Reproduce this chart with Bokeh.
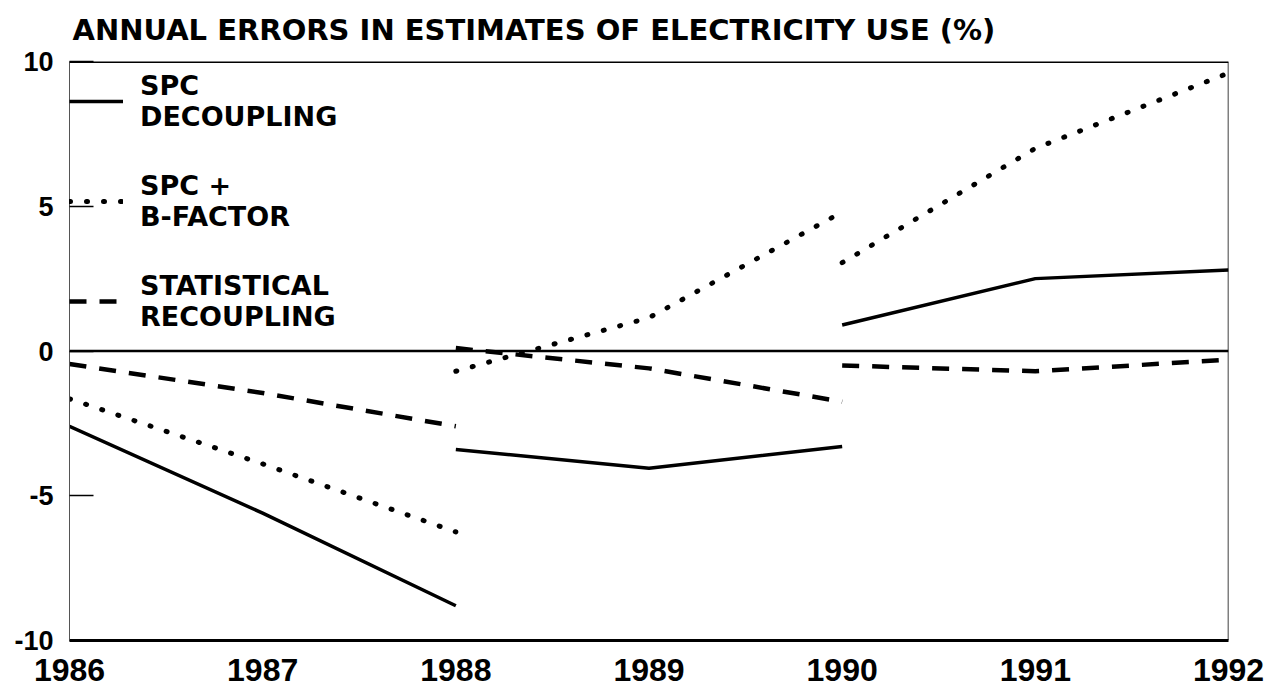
from bokeh.plotting import figure
from bokeh.models import Range1d, FixedTicker, Span, Legend, LegendItem, CustomJSTickFormatter
from bokeh.embed import file_html
from bokeh.resources import INLINE

# ---- data ----
segment_years = [[1986, 1987, 1988], [1988, 1989, 1990], [1990, 1991, 1992]]
spc_decoupling = [[-2.6, -5.6, -8.8], [-3.4, -4.05, -3.3], [0.9, 2.5, 2.8]]
spc_bfactor = [[-1.65, -3.9, -6.25], [-0.7, 1.15, 4.8], [3.05, 7.0, 9.6]]
stat_recoupling = [[-0.45, -1.45, -2.6], [0.1, -0.6, -1.75], [-0.5, -0.7, -0.3]]
x_ticks = [1986, 1987, 1988, 1989, 1990, 1991, 1992]
y_ticks = [-10, -5, 0, 5, 10]
series_labels = ["SPC\nDECOUPLING", "SPC +\nB-FACTOR", "STATISTICAL\nRECOUPLING"]
title_text = "ANNUAL ERRORS IN ESTIMATES OF ELECTRICITY USE (%)"

FONT = "Liberation Sans"
WIDE = "DejaVu Sans"

p = figure(width=1270, height=686, output_backend="svg", toolbar_location=None,
           x_range=Range1d(1986, 1992), y_range=Range1d(-10, 10),
           min_border_left=69, min_border_right=42, min_border_top=61, min_border_bottom=46)
p.title.text = title_text
p.title.text_font = WIDE
p.title.text_font_size = "29px"
p.title.text_font_style = "bold"
p.title.text_color = "black"
p.title.align = "left"
p.title.vertical_align = "top"
p.title.offset = 3
p.title.standoff = 25
p.outline_line_color = None
p.xgrid.grid_line_color = None
p.ygrid.grid_line_color = None
p.background_fill_color = "white"
p.border_fill_color = "white"

# axes
xa = p.xaxis[0]
xa.ticker = FixedTicker(ticks=x_ticks)
xa.major_tick_in = 0
xa.major_tick_out = 0
xa.minor_tick_line_color = None
xa.axis_line_width = 3
xa.axis_line_color = "black"
xa.major_label_text_font = FONT
xa.major_label_text_font_style = "bold"
xa.major_label_text_font_size = "32px"
xa.major_label_text_color = "black"
xa.major_label_standoff = 18

ya = p.yaxis[0]
ya.ticker = FixedTicker(ticks=y_ticks)
ya.formatter = CustomJSTickFormatter(code="return tick.toString();")
ya.major_tick_in = 24
ya.major_tick_out = 0
ya.major_tick_line_width = 1.5
ya.major_tick_line_color = "black"
ya.minor_tick_line_color = None
ya.axis_line_width = 1
ya.axis_line_color = "#555555"
ya.major_label_text_font = FONT
ya.major_label_text_font_style = "bold"
ya.major_label_text_font_size = "27px"
ya.major_label_text_color = "black"
ya.major_label_standoff = 16

# frame lines
p.add_layout(Span(location=10, dimension="width", line_color="black", line_width=3))
p.add_layout(Span(location=0, dimension="width", line_color="black", line_width=2.5))
p.add_layout(Span(location=1992, dimension="height", line_color="black", line_width=1.5))

# series
r1 = p.multi_line(xs=segment_years, ys=spc_decoupling, line_color="black", line_width=3.5)
r2 = p.multi_line(xs=segment_years, ys=spc_bfactor, line_color="black", line_width=5,
                  line_dash="1 16", line_cap="round")
r3 = p.multi_line(xs=segment_years, ys=stat_recoupling, line_color="black", line_width=4.5,
                  line_dash="17 13")

legend = Legend(items=[LegendItem(label=series_labels[0], renderers=[r1]),
                       LegendItem(label=series_labels[1], renderers=[r2]),
                       LegendItem(label=series_labels[2], renderers=[r3])],
                location=(0, 304))
legend.margin = 0
legend.padding = 0
legend.border_line_color = None
legend.background_fill_alpha = 0
legend.glyph_width = 54
legend.glyph_height = 30
legend.label_standoff = 17
legend.spacing = 30
legend.label_text_font = WIDE
legend.label_text_font_style = "bold"
legend.label_text_font_size = "27px"
legend.label_text_color = "black"
legend.label_height = 70
legend.inactive_fill_alpha = 0
p.add_layout(legend)

open("out.html", "w").write(file_html(p, INLINE))
